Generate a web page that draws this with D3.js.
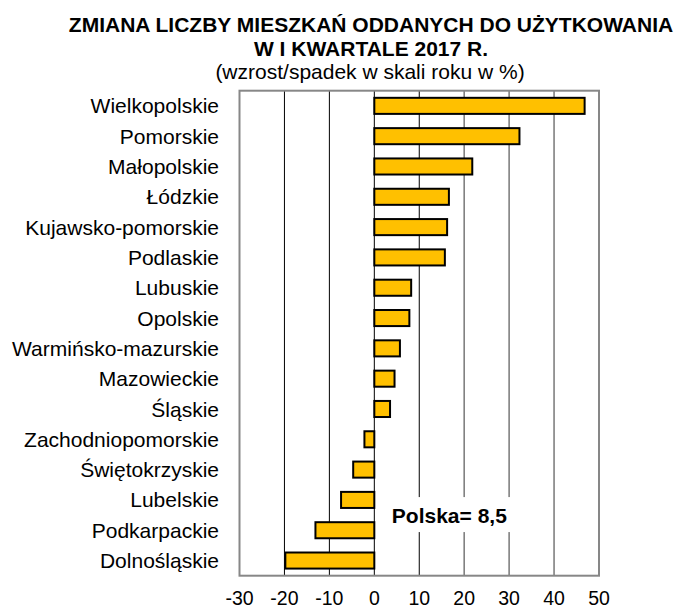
<!DOCTYPE html>
<meta charset='utf-8'>
<style>
body { margin: 0; background: #fff; }
svg text { font-family: 'Liberation Sans', Arial, sans-serif; fill: #000; }
.title { font-size: 21px; font-weight: bold; }
.subtitle { font-size: 21px; }
.cat { font-size: 21px; }
.tick-lbl { font-size: 19.5px; }
.note { font-size: 21px; font-weight: bold; }
</style>
<svg width='683' height='611'></svg>
<script src='https://d3js.org/d3.v7.min.js'></script>
<script>

var regions = ['Wielkopolskie', 'Pomorskie', 'Małopolskie', 'Łódzkie', 'Kujawsko-pomorskie',
    'Podlaskie', 'Lubuskie', 'Opolskie', 'Warmińsko-mazurskie', 'Mazowieckie', 'Śląskie',
    'Zachodniopomorskie', 'Świętokrzyskie', 'Lubelskie', 'Podkarpackie', 'Dolnośląskie'];
var changes = [46.8, 32.3, 21.8, 16.6, 16.2, 15.7, 8.2, 7.8, 5.7, 4.5, 3.5, -2.2, -4.7, -7.4, -13.1, -19.8];
var xTicks = [-30, -20, -10, 0, 10, 20, 30, 40, 50];
var polskaValue = 8.5;

var svg = d3.select('svg'),
    plotL = 239.5, plotR = 599, plotT = 90.7, plotB = 575.7;

var x = d3.scaleLinear().domain([-30, 50]).range([plotL, plotR]);
var y = d3.scaleBand().domain(regions).range([plotT, plotB])
    .paddingInner(0.47).paddingOuter(0.235);

var data = regions.map(function(r, i) { return {name: r, value: changes[i]}; });

// titles
svg.append('text').attr('class', 'title').attr('x', 371).attr('y', 32)
    .attr('text-anchor', 'middle').text('ZMIANA LICZBY MIESZKAŃ ODDANYCH DO UŻYTKOWANIA');
svg.append('text').attr('class', 'title').attr('x', 371).attr('y', 56)
    .attr('text-anchor', 'middle').text('W I KWARTALE 2017 R.');
svg.append('text').attr('class', 'subtitle').attr('x', 370).attr('y', 79)
    .attr('text-anchor', 'middle').text('(wzrost/spadek w skali roku w %)');

// vertical grid
svg.append('g').selectAll('line')
    .data(xTicks.slice(1, -1))
    .enter().append('line')
    .attr('x1', function(d) { return x(d); })
    .attr('x2', function(d) { return x(d); })
    .attr('y1', plotT).attr('y2', plotB)
    .attr('stroke', function(d) { return d <= 10 ? '#000' : '#808080'; })
    .attr('stroke-width', function(d) { return d <= 10 ? 1 : 1.6; });

// bars
svg.append('g').selectAll('rect')
    .data(data)
    .enter().append('rect')
    .attr('x', function(d) { return x(Math.min(0, d.value)); })
    .attr('y', function(d) { return y(d.name); })
    .attr('width', function(d) { return Math.abs(x(d.value) - x(0)); })
    .attr('height', y.bandwidth())
    .attr('fill', '#FFC000')
    .attr('stroke', '#000')
    .attr('stroke-width', 2);

// frame
svg.append('rect')
    .attr('x', plotL).attr('y', plotT)
    .attr('width', plotR - plotL).attr('height', plotB - plotT)
    .attr('fill', 'none').attr('stroke', '#878787').attr('stroke-width', 2);

// category labels
svg.append('g').selectAll('text')
    .data(regions)
    .enter().append('text')
    .attr('class', 'cat')
    .attr('x', 219)
    .attr('y', function(d) { return y(d) + y.bandwidth() / 2; })
    .attr('dy', '0.36em')
    .attr('text-anchor', 'end')
    .text(function(d) { return d; });

// x tick labels
svg.append('g').selectAll('text')
    .data(xTicks)
    .enter().append('text')
    .attr('class', 'tick-lbl')
    .attr('x', function(d) { return x(d); })
    .attr('y', 605)
    .attr('text-anchor', 'middle')
    .text(function(d) { return d; });

// Polska annotation
var noteY = (y('Lubelskie') + y('Podkarpackie')) / 2 + y.bandwidth() / 2;
var note = svg.append('g');
note.append('rect')
    .attr('x', x(1.9)).attr('y', noteY - 18)
    .attr('width', x(30.6) - x(1.9)).attr('height', 35)
    .attr('fill', '#fff');
note.append('text').attr('class', 'note')
    .attr('x', x(3.9)).attr('y', noteY + 7.5)
    .text('Polska= ' + String(polskaValue).replace('.', ','));

</script>
